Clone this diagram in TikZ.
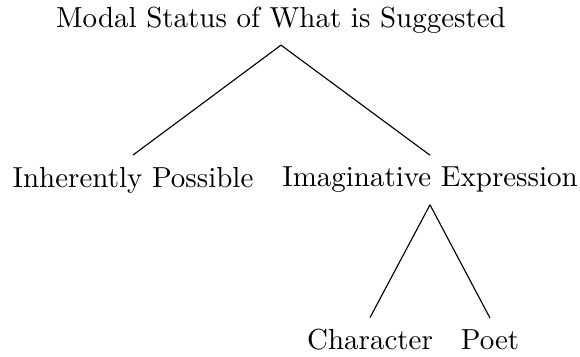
\documentclass[tikz,border=0pt]{standalone}
\begin{document}
\begin{tikzpicture}[x=0.352pt,y=-0.352pt,
  lbl/.style={inner sep=4pt, font=\fontsize{10.2pt}{12pt}\selectfont},
  edge/.style={draw=black, line width=0.4pt}]
\useasboundingbox (0,0) rectangle (580,356);
\node[lbl] (root) at (281,20) {Modal Status of What is Suggested};
\node[lbl] (ip) at (133,180) {Inherently Possible};
\node[lbl] (ie) at (430,180) {Imaginative Expression};
\node[lbl] (ch) at (370,340) {Character};
\node[lbl] (po) at (490,340) {Poet};
\draw[edge] (root.south) -- (ip.north);
\draw[edge] (root.south) -- (ie.north);
\draw[edge] (ie.south) -- (ch.north);
\draw[edge] (ie.south) -- (po.north);
\end{tikzpicture}
\end{document}
